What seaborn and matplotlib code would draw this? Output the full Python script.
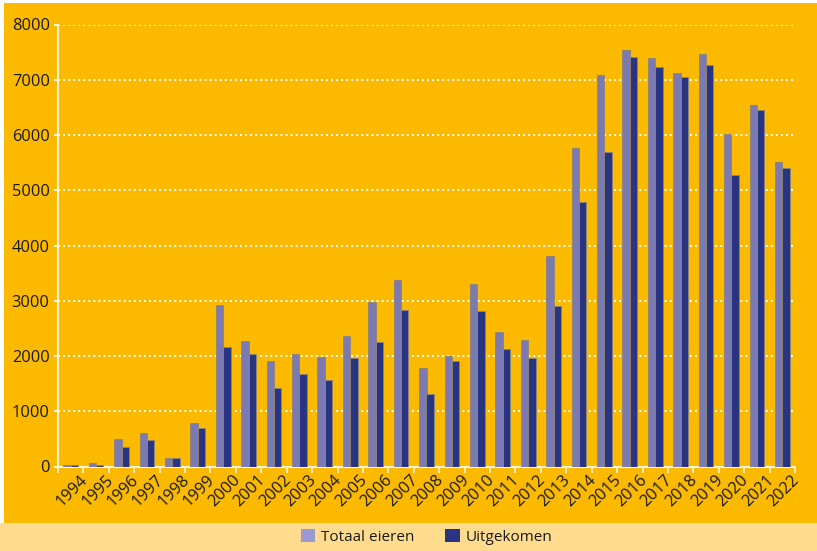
import matplotlib
matplotlib.use('Agg')
import matplotlib.pyplot as plt
import matplotlib.transforms as mtransforms
from matplotlib.patches import Rectangle, Patch
import seaborn as sns
import pandas as pd
import numpy as np

years = [str(y) for y in range(1994, 2023)]
totaal = [25, 60, 490, 600, 155, 780, 2920, 2280, 1910, 2040, 1980, 2355,
          2975, 3375, 1790, 1995, 3295, 2430, 2290, 3810, 5760, 7080, 7545,
          7385, 7115, 7470, 6015, 6535, 5520]
uitgekomen = [22, 35, 360, 480, 155, 695, 2160, 2030, 1420, 1680, 1560, 1970,
              2245, 2825, 1310, 1910, 2810, 2125, 1970, 2900, 4780, 5700, 7420,
              7225, 7045, 7260, 5285, 6450, 5410]
series_names = ['Totaal eieren', 'Uitgekomen']
y_ticks = [0, 1000, 2000, 3000, 4000, 5000, 6000, 7000, 8000]

ORANGE = '#FBB900'
PEACH = '#FFDB8E'
LIGHT = '#7B7AB3'
LIGHT_LEG = '#9A9AD0'
DARK = '#2A3582'
TEXT = '#1A1A1A'

sns.set_theme(style='white')
plt.rcParams['font.family'] = ['Open Sans', 'DejaVu Sans']

W, H = 817, 551
fig = plt.figure(figsize=(W / 100, H / 100), dpi=100)
fig.patch.set_facecolor('white')
band = 28
fig.patches.append(Rectangle((4 / W, band / H), 1 - 4 / W, (H - 3 - band) / H,
                             transform=fig.transFigure, facecolor=ORANGE,
                             edgecolor='none', zorder=-10))
fig.patches.append(Rectangle((0, 0), 1, band / H, transform=fig.transFigure,
                             facecolor=PEACH, edgecolor='none', zorder=-10))

left, right, top, bottom = 58, 795, 24.5, 466.5
ax = fig.add_axes([left / W, (H - bottom) / H, (right - left) / W, (bottom - top) / H])
ax.set_facecolor('none')

df = pd.DataFrame({
    'Jaar': years * 2,
    'Aantal': totaal + uitgekomen,
    'Serie': [series_names[0]] * len(years) + [series_names[1]] * len(years),
})
sns.barplot(data=df, x='Jaar', y='Aantal', hue='Serie', palette=[LIGHT, DARK],
            width=0.58, saturation=1, ax=ax, legend=False,
            edgecolor='#8d857a', linewidth=0.6, zorder=3)

ax.set_xlim(-0.5, len(years) - 0.5)
ax.set_ylim(0, 8000)
ax.set_yticks(y_ticks)
ax.set_yticklabels([str(v) for v in y_ticks], fontsize=11.8, color=TEXT)
ax.set_xlabel('')
ax.set_ylabel('')

ax.grid(False)
for v in y_ticks[1:]:
    ax.axhline(v, color='white', lw=1.4, ls=(0, (1, 1.6)), zorder=1)

for s in ['top', 'right']:
    ax.spines[s].set_visible(False)
for s in ['left', 'bottom']:
    ax.spines[s].set_color('#FFF4D0')
    ax.spines[s].set_linewidth(1.5)

ax.tick_params(axis='y', length=3, color='white', width=1.2, pad=3, left=True)
ax.set_xticks(range(len(years)))
ax.set_xticklabels(years, rotation=45, ha='right', va='top',
                   rotation_mode='anchor', fontsize=11.8, color=TEXT)
ax.tick_params(axis='x', which='major', length=0, pad=4, bottom=True)
ax.set_xticks(np.arange(-0.5, len(years), 1.0), minor=True)
ax.tick_params(axis='x', which='minor', length=4, color='#FFF4D0', width=1.2, bottom=True)
offset = mtransforms.ScaledTranslation(9 / 100, 0, fig.dpi_scale_trans)
for lbl in ax.get_xticklabels():
    lbl.set_transform(lbl.get_transform() + offset)

handles = [Patch(facecolor=LIGHT_LEG, edgecolor='none', label=series_names[0]),
           Patch(facecolor=DARK, edgecolor='none', label=series_names[1])]
fig.legend(handles=handles, loc='center', bbox_to_anchor=((left + right) / 2 / W, 14 / H),
           ncol=2, frameon=False, fontsize=11, handlelength=0.95, handleheight=0.95,
           handletextpad=0.4, columnspacing=2.0, labelcolor=TEXT)

fig.savefig('out.png', dpi=100, facecolor=fig.get_facecolor())
